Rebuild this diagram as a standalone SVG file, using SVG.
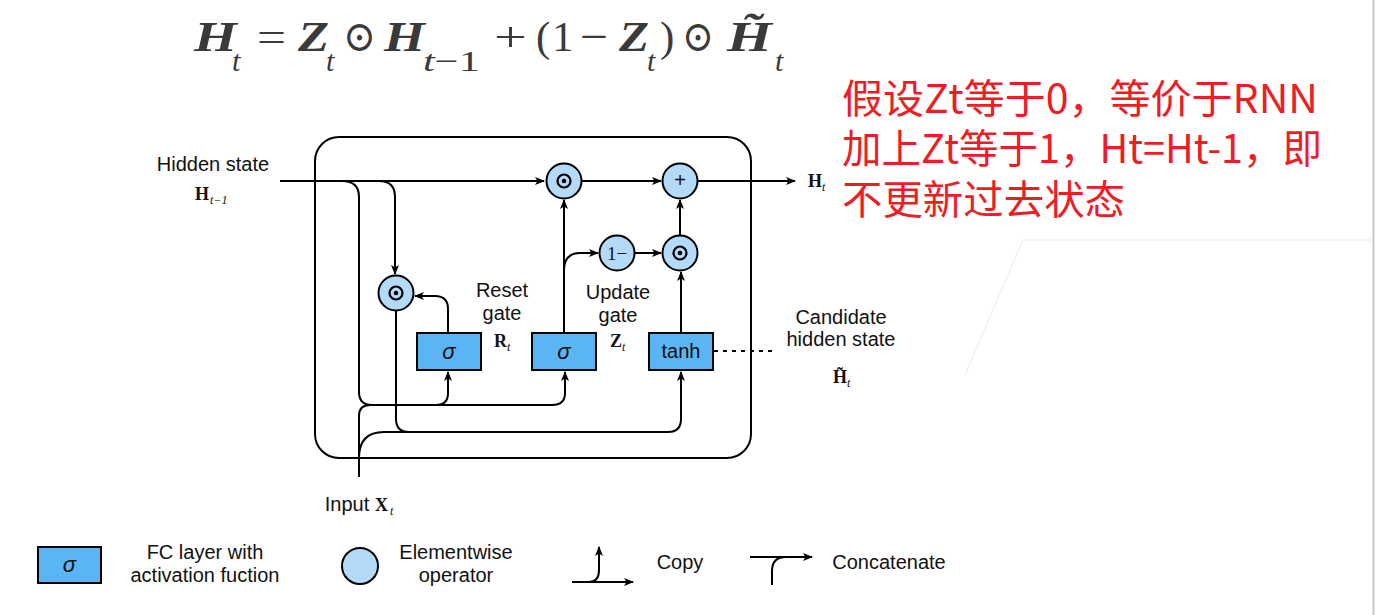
<svg xmlns="http://www.w3.org/2000/svg" width="1375" height="615" viewBox="0 0 1375 615">
<defs>
<marker id="ah" viewBox="0 0 10 8" refX="9" refY="4" markerWidth="10" markerHeight="8" markerUnits="userSpaceOnUse" orient="auto">
<path d="M0,0 L10,4 L0,8 L2.5,4 Z" fill="#000"/>
</marker>
<style>
.ln{fill:none;stroke:#000;stroke-width:2}
.ar{fill:none;stroke:#000;stroke-width:2;marker-end:url(#ah)}
.op{fill:#b4dafa;stroke:#000;stroke-width:2}
.fc{fill:#5cb5f3;stroke:#000;stroke-width:2}
.lb{font-family:"Liberation Sans",Arial,sans-serif;font-size:20px;fill:#111;text-anchor:middle}
.sg{font-family:"Liberation Sans",Arial,sans-serif;font-size:22px;font-style:italic;fill:#111;text-anchor:middle}
.mb{font-family:"Liberation Serif","Times New Roman",serif;font-weight:bold;font-size:18px;fill:#111}
.ms{font-family:"Liberation Serif","Times New Roman",serif;font-style:italic;font-size:12px;fill:#111}
.fm{font-family:"Liberation Serif","DejaVu Serif",serif;font-size:43px;fill:#3a3a3a}
.fv{font-weight:bold;font-style:italic}
.fs{font-style:italic;font-size:30px}
.red{font-family:"Noto Sans CJK SC","Noto Sans",sans-serif;font-size:40px;fill:#ee1c25}
</style>
</defs>
<rect width="1375" height="615" fill="#fff"/>
<g id="artifacts" fill="none" stroke="#f1f1f1" stroke-width="1.5">
<path d="M965,375 L1023,240 H1372"/>
<path d="M1373.5,0 V615" stroke="#c8c8c8" stroke-width="2"/>
</g>

<g id="formula" class="fm">
<text x="194" y="51" class="fv" textLength="43" lengthAdjust="spacingAndGlyphs">H</text>
<text x="232" y="71" class="fs">t</text>
<text x="257" y="51" textLength="29" lengthAdjust="spacingAndGlyphs">=</text>
<text x="298" y="51" class="fv" textLength="31" lengthAdjust="spacingAndGlyphs">Z</text>
<text x="326" y="71" class="fs">t</text>
<text x="343" y="51" textLength="33" lengthAdjust="spacingAndGlyphs">⊙</text>
<text x="384" y="51" class="fv" textLength="41" lengthAdjust="spacingAndGlyphs">H</text>
<text x="423" y="71" class="fs" textLength="57" lengthAdjust="spacingAndGlyphs">t<tspan font-style="normal">−1</tspan></text>
<text x="494" y="51" textLength="33" lengthAdjust="spacingAndGlyphs">+</text>
<text x="536" y="51">(</text>
<text x="552" y="51">1</text>
<text x="580" y="51" textLength="28" lengthAdjust="spacingAndGlyphs">−</text>
<text x="619" y="51" class="fv" textLength="30" lengthAdjust="spacingAndGlyphs">Z</text>
<text x="647" y="71" class="fs">t</text>
<text x="660" y="51">)</text>
<text x="682" y="51" textLength="32" lengthAdjust="spacingAndGlyphs">⊙</text>
<text x="727" y="51" class="fv" textLength="45" lengthAdjust="spacingAndGlyphs">H&#x303;</text>
<text x="775" y="71" class="fs">t</text>
</g>

<g id="note" class="red">
<text x="842" y="113" textLength="476" lengthAdjust="spacingAndGlyphs">假设Zt等于0，等价于RNN</text>
<text x="842" y="163" textLength="480" lengthAdjust="spacingAndGlyphs">加上Zt等于1，Ht=Ht-1，即</text>
<text x="842" y="214" textLength="283" lengthAdjust="spacingAndGlyphs">不更新过去状态</text>
</g>

<g id="cell">
<rect x="315" y="137" width="436" height="321" rx="24" class="ln"/>
</g>

<g id="connectors">
<path class="ar" d="M280,181 H544"/>
<path class="ln" d="M342,181 Q359,181 359,197 V392 Q359,405 372,405 H552"/>
<path class="ar" d="M552,405 Q565,405 565,393 V372"/>
<path class="ar" d="M436,405 Q448,405 448,393 V372"/>
<path class="ar" d="M379,181 Q395,181 395,197 V274"/>
<path class="ln" d="M396,311 V419 Q396,432 409,432 H668"/>
<path class="ar" d="M668,432 Q681,432 681,419 V372"/>
<path class="ln" d="M359,477 V416 Q359,405 370,405"/>
<path class="ln" d="M359,458 Q359,432 384,432 H410"/>
<path class="ar" d="M448,333 V309 Q448,296 435,296 H415"/>
<path class="ar" d="M564,333 V200"/>
<path class="ar" d="M564,271 Q564,253 580,253 H598"/>
<path class="ar" d="M634.5,253 H661"/>
<path class="ar" d="M681,333 V272"/>
<path class="ar" d="M680,235.5 V200"/>
<path class="ar" d="M581.5,181 H661"/>
<path class="ar" d="M698,181 H795"/>
<path class="ln" d="M714,351 H772" stroke-dasharray="4 5"/>
</g>

<g id="reset-mul">
<circle cx="396" cy="293" r="17.5" class="op"/>
<circle cx="396" cy="293" r="6.5" fill="none" stroke="#000" stroke-width="2.2"/>
<circle cx="396" cy="293" r="2.3" fill="#000"/>
</g>
<g id="update-mul">
<circle cx="564" cy="181" r="17.5" class="op"/>
<circle cx="564" cy="181" r="6.5" fill="none" stroke="#000" stroke-width="2.2"/>
<circle cx="564" cy="181" r="2.3" fill="#000"/>
</g>
<g id="plus">
<circle cx="680" cy="181" r="17.5" class="op"/>
<text x="680" y="187" class="lb" font-size="17">+</text>
</g>
<g id="one-minus">
<circle cx="617" cy="253" r="17.5" class="op"/>
<text x="617" y="260" font-family="Liberation Serif,serif" font-size="19" text-anchor="middle" fill="#111">1−</text>
</g>
<g id="cand-mul">
<circle cx="680" cy="253" r="17.5" class="op"/>
<circle cx="680" cy="253" r="6.5" fill="none" stroke="#000" stroke-width="2.2"/>
<circle cx="680" cy="253" r="2.3" fill="#000"/>
</g>

<g id="reset-gate">
<rect x="417" y="333" width="64" height="37" class="fc"/>
<text x="449" y="359" class="sg">σ</text>
</g>
<g id="update-gate">
<rect x="532" y="333" width="64" height="37" class="fc"/>
<text x="564" y="359" class="sg">σ</text>
</g>
<g id="tanh">
<rect x="649" y="333" width="64" height="37" class="fc"/>
<text x="681" y="358" class="lb">tanh</text>
</g>

<g id="labels">
<text x="213" y="171" class="lb">Hidden state</text>
<text x="195" y="200" class="mb">H</text><text x="210" y="204" class="ms">t−1</text>
<text x="502" y="297" class="lb">Reset</text>
<text x="502" y="320" class="lb">gate</text>
<text x="494" y="347" class="mb">R</text><text x="507" y="351" class="ms">t</text>
<text x="618" y="299" class="lb">Update</text>
<text x="618" y="322" class="lb">gate</text>
<text x="610" y="347" class="mb">Z</text><text x="622" y="351" class="ms">t</text>
<text x="841" y="324" class="lb">Candidate</text>
<text x="841" y="346" class="lb">hidden state</text>
<text x="833" y="383" class="mb">H&#x303;</text><text x="847" y="387" class="ms">t</text>
<text x="808" y="187" class="mb">H</text><text x="822" y="191" class="ms">t</text>
<text x="347" y="511" class="lb">Input</text>
<text x="375" y="511" class="mb">X</text><text x="390" y="515" class="ms">t</text>
</g>

<g id="legend">
<rect x="38" y="547" width="63" height="36" class="fc"/>
<text x="69.5" y="572" class="sg" font-size="20">σ</text>
<text x="205" y="559" class="lb">FC layer with</text>
<text x="205" y="582" class="lb">activation fuction</text>
<circle cx="360" cy="566" r="18" class="op"/>
<text x="456" y="559" class="lb">Elementwise</text>
<text x="456" y="582" class="lb">operator</text>
<path class="ar" d="M572,582 H633"/>
<path class="ar" d="M589,582 Q599,582 599,570 V547"/>
<text x="680" y="569" class="lb">Copy</text>
<path class="ar" d="M750,557 H812"/>
<path class="ln" d="M772,585 V571 Q772,557 786,557"/>
<text x="889" y="569" class="lb">Concatenate</text>
</g>
</svg>
